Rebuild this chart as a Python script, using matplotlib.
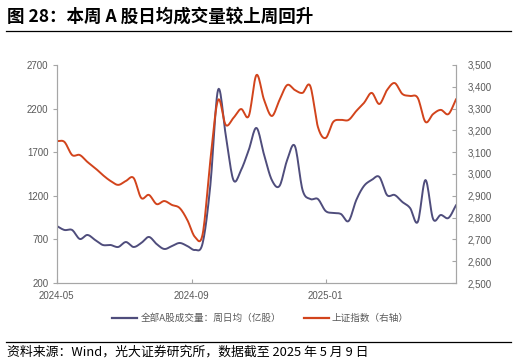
import numpy as np
import pandas as pd
import matplotlib
matplotlib.use('Agg')
import matplotlib.pyplot as plt
from matplotlib.lines import Line2D

plt.rcParams['font.family'] = ['Noto Sans CJK SC', 'DejaVu Sans']

# weekly data, 2024-05-10 .. 2025-05-09
dates = pd.date_range('2024-05-10', periods=53, freq='7D')

volume = [854, 808, 808, 705, 751, 693, 636, 636, 613, 670,
          613, 659, 728, 647, 590, 624, 659, 624, 579, 659,
          1324, 2414, 1898, 1381, 1496, 1726, 1978, 1668, 1381, 1313,
          1611, 1771, 1267, 1163, 1163, 1026, 1003, 991, 911, 1152,
          1313, 1381, 1416, 1209, 1209, 1129, 1060, 900, 1381, 934,
          980, 946, 1095]

sse = [3151, 3147, 3087, 3087, 3055, 3027, 2995, 2968, 2950, 2968,
       2982, 2890, 2904, 2862, 2876, 2858, 2844, 2789, 2711, 2725,
       3064, 3339, 3225, 3257, 3298, 3266, 3454, 3339, 3266, 3339,
       3408, 3385, 3372, 3404, 3216, 3165, 3239, 3248, 3248, 3289,
       3326, 3372, 3321, 3385, 3417, 3367, 3358, 3349, 3239, 3275,
       3294, 3275, 3344]

tick_dates = pd.to_datetime(['2024-05-10', '2024-09-10', '2025-01-10'])
tick_labels = ['2024-05', '2024-09', '2025-01']

left_ticks = [200, 700, 1200, 1700, 2200, 2700]
right_ticks = list(range(2500, 3501, 100))

blue = '#4f4d7c'
red = '#d2441c'
gray = '#595959'
spine = '#a6a6a6'


def smooth(x, y, n=12):
    # catmull-rom, like excel's smoothed line
    x = np.asarray(x, float)
    y = np.asarray(y, float)
    px = np.concatenate([[2 * x[0] - x[1]], x, [2 * x[-1] - x[-2]]])
    py = np.concatenate([[2 * y[0] - y[1]], y, [2 * y[-1] - y[-2]]])
    ox, oy = [], []
    t = np.linspace(0, 1, n, endpoint=False)
    for i in range(1, len(px) - 2):
        for arr, out in ((px, ox), (py, oy)):
            p0, p1, p2, p3 = arr[i - 1:i + 3]
            out.extend(0.5 * (2 * p1 + (-p0 + p2) * t
                              + (2 * p0 - 5 * p1 + 4 * p2 - p3) * t ** 2
                              + (-p0 + 3 * p1 - 3 * p2 + p3) * t ** 3))
    ox.append(x[-1])
    oy.append(y[-1])
    return np.array(ox), np.array(oy)


xnum = matplotlib.dates.date2num(dates)

fig = plt.figure(figsize=(5.16, 3.64), dpi=100)
ax = fig.add_axes([0.110, 0.2225, 0.774, 0.599])
ax2 = ax.twinx()

sx, sy = smooth(xnum, volume)
ax.plot(sx, sy, color=blue, lw=1.4, solid_capstyle='round')
sx, sy = smooth(xnum, sse)
ax2.plot(sx, sy, color=red, lw=1.4, solid_capstyle='round')

ax.set_xlim(xnum[0], xnum[-1])
ax.set_ylim(200, 2700)
ax2.set_ylim(2500, 3500)
ax.set_yticks(left_ticks)
ax2.set_yticks(right_ticks)
ax2.set_yticklabels([f'{v:,}' for v in right_ticks])
ax.set_xticks(matplotlib.dates.date2num(tick_dates))
ax.set_xticklabels(tick_labels)

for a in (ax, ax2):
    a.spines['top'].set_visible(False)
    for s in ('left', 'right', 'bottom'):
        a.spines[s].set_color(spine)
        a.spines[s].set_linewidth(0.8)
    a.tick_params(labelsize=7, labelcolor=gray, color=spine, width=0.8)
    for lab in a.get_yticklabels() + a.get_xticklabels():
        lab.set_family(['Liberation Sans', 'DejaVu Sans'])
ax.tick_params(axis='y', direction='out', length=3, pad=3)
ax.tick_params(axis='x', direction='in', length=3, pad=6)
ax2.tick_params(axis='y', direction='in', length=3, pad=8)

fig.text(0.014, 0.955, '图 28：本周 A 股日均成交量较上周回升', fontsize=12.6,
         fontweight='bold', va='center', ha='left', color='black')
fig.add_artist(Line2D([0.012, 0.99], [0.914, 0.914], color='black', lw=0.9))
fig.add_artist(Line2D([0.012, 0.99], [0.061, 0.061], color='black', lw=0.9))
fig.text(0.014, 0.033, '资料来源：Wind，光大证券研究所，数据截至 2025 年 5 月 9 日',
         fontsize=9.3, va='center', ha='left', color='black')

handles = [Line2D([], [], color=blue, lw=1.6), Line2D([], [], color=red, lw=1.6)]
fig.legend(handles, ['全部A股成交量：周日均（亿股）', '上证指数（右轴）'],
           loc='center', bbox_to_anchor=(0.505, 0.125), ncol=2, frameon=False,
           fontsize=6.9, labelcolor=gray, handlelength=2.6, handletextpad=0.3,
           columnspacing=2.4)

fig.savefig('out.png', dpi=100)
